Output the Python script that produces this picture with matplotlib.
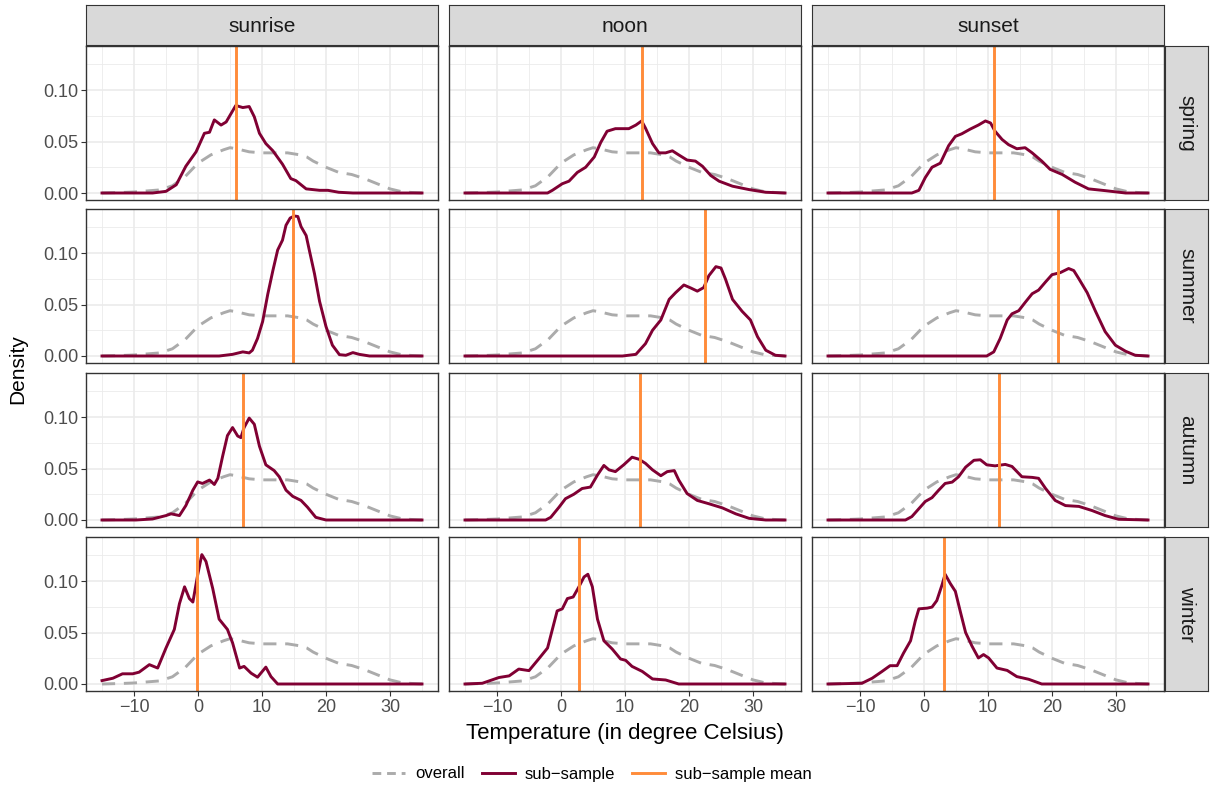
import matplotlib
matplotlib.use("Agg")
import matplotlib.pyplot as plt
from matplotlib.lines import Line2D

plt.rcParams['font.family'] = ['Liberation Sans', 'DejaVu Sans']

times = ['sunrise', 'noon', 'sunset']
seasons = ['spring', 'summer', 'autumn', 'winter']

# overall density (same in every panel)
overall_x = [-15, -12, -10, -8, -6, -4, -2, 0, 2, 4, 5, 6, 8, 10, 12, 14, 16, 17, 18, 20, 22, 24, 26, 28, 30, 32, 35]
overall_y = [0, 0.0005, 0.001, 0.002, 0.003, 0.007, 0.016, 0.029, 0.037, 0.042, 0.044, 0.043, 0.040, 0.039,
             0.039, 0.039, 0.037, 0.035, 0.031, 0.025, 0.020, 0.018, 0.014, 0.009, 0.004, 0.001, 0]

# sub-sample densities
spring_sunrise_x = [-15, -7.1, -5, -3.4, -1.9, -0.3, 1.0, 1.8, 2.55, 3.6, 4.4, 5.9, 7.0, 8.0, 8.8, 9.6, 10.6, 11.7,
                    13.2, 14.5, 15.3, 16.9, 19.0, 20.3, 22, 24.2, 35]
spring_sunrise_y = [0, 0, 0.0016, 0.008, 0.026, 0.040, 0.058, 0.059, 0.071, 0.066, 0.069, 0.085, 0.083, 0.084,
                    0.074, 0.058, 0.048, 0.041, 0.028, 0.014, 0.012, 0.004, 0.0026, 0.0026, 0.0007, 0, 0]
spring_noon_x = [-15, -2.1, -1.35, 0.2, 1.25, 2.55, 3.85, 5.2, 6.2, 7.2, 8.5, 10.6, 11.7, 12.6, 13.2, 14.3, 15.3,
                 16.35, 17.4, 18.4, 19.7, 21.0, 22.1, 23.4, 24.7, 26.8, 29.4, 32, 35]
spring_noon_y = [0, 0, 0.0026, 0.009, 0.0115, 0.020, 0.025, 0.035, 0.049, 0.060, 0.0625, 0.0625, 0.066, 0.070,
                 0.063, 0.048, 0.039, 0.039, 0.041, 0.037, 0.032, 0.031, 0.026, 0.017, 0.0115, 0.0066, 0.0033,
                 0.0007, 0]
spring_sunset_x = [-15, -1.9, -0.8, 0.2, 1.25, 2.55, 3.85, 4.9, 5.9, 7.2, 8.5, 9.6, 10.4, 11.1, 12.2, 13.2, 14.5,
                   15.8, 16.9, 18.4, 19.7, 21.6, 23.6, 25.7, 28.3, 31.5, 35]
spring_sunset_y = [0, 0, 0.0026, 0.015, 0.025, 0.029, 0.046, 0.055, 0.0575, 0.062, 0.066, 0.070, 0.068, 0.060,
                   0.052, 0.047, 0.043, 0.044, 0.039, 0.031, 0.023, 0.018, 0.0105, 0.004, 0.0023, 0, 0]
summer_sunrise_x = [-15, 3.3, 5.4, 7.0, 8.0, 8.5, 9.3, 10.1, 10.9, 11.7, 12.45, 13.2, 13.75, 14.4, 15.05, 15.6,
                    16.1, 16.9, 17.4, 18.2, 19.0, 20.0, 21.0, 22.1, 23.1, 24.2, 25.2, 26.8, 35]
summer_sunrise_y = [0, 0, 0.0016, 0.004, 0.003, 0.0056, 0.017, 0.0335, 0.060, 0.083, 0.103, 0.1125, 0.127, 0.134,
                    0.136, 0.1355, 0.1257, 0.117, 0.1026, 0.080, 0.053, 0.0286, 0.0105, 0.0013, 0.0007, 0.0033,
                    0.0016, 0, 0]
summer_noon_x = [-15, 9.6, 11.7, 13.2, 14.3, 15.6, 16.9, 17.9, 19.2, 20.3, 21.3, 22.3, 23.1, 24.2, 25.0, 25.7,
                 26.8, 28.3, 29.6, 30.7, 32.0, 33.5, 35]
summer_noon_y = [0, 0, 0.0016, 0.012, 0.025, 0.035, 0.055, 0.0615, 0.069, 0.066, 0.063, 0.0665, 0.078, 0.0868,
                 0.0855, 0.0747, 0.055, 0.0434, 0.035, 0.0188, 0.0056, 0.0007, 0]
summer_sunset_x = [-15, 9.8, 10.9, 11.9, 13.0, 13.75, 14.8, 15.8, 16.9, 17.9, 19.0, 20.0, 21.3, 22.6, 23.4, 24.2,
                   25.5, 26.8, 28.3, 29.9, 31.5, 33.0, 35]
summer_sunset_y = [0, 0, 0.004, 0.017, 0.035, 0.041, 0.044, 0.052, 0.0605, 0.064, 0.072, 0.079, 0.081, 0.085,
                   0.083, 0.075, 0.0615, 0.0434, 0.0237, 0.0105, 0.0046, 0.0007, 0]
autumn_sunrise_x = [-15, -9.7, -7.1, -5, -4.2, -2.9, -1.9, -0.8, -0.05, 0.7, 1.8, 2.55, 3.1, 3.85, 4.6, 5.4, 6.2,
                    6.7, 7.2, 8.0, 8.8, 9.6, 10.6, 11.9, 12.7, 13.75, 14.8, 16.1, 17.1, 18.4, 20, 35]
autumn_sunrise_y = [0, 0, 0.001, 0.0043, 0.006, 0.0043, 0.014, 0.029, 0.037, 0.0355, 0.0388, 0.0345, 0.0405,
                    0.062, 0.082, 0.0898, 0.0816, 0.080, 0.0898, 0.099, 0.093, 0.0717, 0.0536, 0.048, 0.042,
                    0.029, 0.023, 0.019, 0.0125, 0.0026, 0, 0]
autumn_noon_x = [-15, -2.4, -1.6, -0.3, 0.7, 2.0, 3.3, 4.6, 5.7, 6.7, 7.5, 8.5, 9.8, 11.1, 12.2, 13.2, 14.3, 15.6,
                 16.6, 17.7, 18.4, 19.7, 21.3, 23.1, 25.2, 27.3, 29.4, 32, 35]
autumn_noon_y = [0, 0, 0.0026, 0.0125, 0.0207, 0.025, 0.0306, 0.032, 0.0437, 0.053, 0.0487, 0.047, 0.0536,
                 0.061, 0.059, 0.055, 0.0487, 0.043, 0.047, 0.048, 0.0388, 0.0257, 0.019, 0.0158, 0.0118, 0.006,
                 0.0016, 0, 0]
autumn_sunset_x = [-15, -2.9, -1.9, -0.8, 0.2, 1.25, 2.3, 3.3, 4.4, 5.4, 6.5, 7.8, 8.8, 9.8, 11.1, 12.7, 13.75,
                   15.3, 16.9, 17.9, 19.0, 20.5, 22.1, 24.2, 26.25, 28.3, 30.4, 35]
autumn_sunset_y = [0, 0, 0.0033, 0.011, 0.018, 0.0217, 0.029, 0.0355, 0.0368, 0.042, 0.0513, 0.058, 0.0585,
                   0.0536, 0.0526, 0.054, 0.052, 0.042, 0.0414, 0.0405, 0.0306, 0.019, 0.014, 0.0132, 0.0092,
                   0.0043, 0.0007, 0]
winter_sunrise_x = [-15, -13.3, -11.8, -10.2, -9.2, -7.6, -6.3, -5, -3.7, -2.9, -2.1, -1.35, -0.8, -0.05, 0.6,
                    1.25, 2.3, 3.3, 4.6, 5.4, 6.5, 7.2, 8.3, 9.3, 10.6, 11.4, 12.45, 35]
winter_sunrise_y = [0.0033, 0.0056, 0.0099, 0.0099, 0.0115, 0.0188, 0.0155, 0.035, 0.053, 0.078, 0.0944, 0.083,
                    0.0796, 0.106, 0.1257, 0.119, 0.0928, 0.063, 0.053, 0.040, 0.0155, 0.0171, 0.0105, 0.0066,
                    0.0164, 0.0072, 0, 0]
winter_noon_x = [-15, -12.3, -9.7, -8.1, -6.6, -5, -3.4, -2.1, -1.35, -0.6, 0.2, 1.0, 1.9, 2.8, 3.6, 4.2, 4.9,
                 5.7, 6.7, 8.0, 9.3, 10.1, 11.1, 12.7, 14.3, 16.35, 18.4, 35]
winter_noon_y = [0, 0.0007, 0.0063, 0.0079, 0.0145, 0.013, 0.025, 0.035, 0.053, 0.071, 0.073, 0.083, 0.0845,
                 0.0944, 0.104, 0.1066, 0.0944, 0.063, 0.042, 0.034, 0.0243, 0.023, 0.0171, 0.0122, 0.0049,
                 0.0039, 0, 0]
winter_sunset_x = [-15, -9.7, -8.1, -6.6, -5.3, -4.2, -3.2, -2.1, -1.35, -0.8, 0.5, 1.25, 2.0, 2.8, 3.3, 4.1,
                   4.9, 5.7, 6.5, 7.5, 8.5, 9.3, 10.1, 11.4, 13.0, 14.5, 16.35, 18.4, 35]
winter_sunset_y = [0, 0.0007, 0.0056, 0.012, 0.0178, 0.0178, 0.030, 0.042, 0.0615, 0.073, 0.0737, 0.0747, 0.081,
                   0.096, 0.1066, 0.0977, 0.090, 0.0697, 0.050, 0.0368, 0.0253, 0.0286, 0.0253, 0.0155, 0.0132,
                   0.0072, 0.0046, 0, 0]

# sub-sample means (sunrise, noon, sunset)
mean_spring = [5.9, 12.7, 11.0]
mean_summer = [14.9, 22.5, 20.9]
mean_autumn = [7.1, 12.3, 11.7]
mean_winter = [-0.2, 2.8, 3.1]

sub = {
    ('spring', 'sunrise'): (spring_sunrise_x, spring_sunrise_y),
    ('spring', 'noon'): (spring_noon_x, spring_noon_y),
    ('spring', 'sunset'): (spring_sunset_x, spring_sunset_y),
    ('summer', 'sunrise'): (summer_sunrise_x, summer_sunrise_y),
    ('summer', 'noon'): (summer_noon_x, summer_noon_y),
    ('summer', 'sunset'): (summer_sunset_x, summer_sunset_y),
    ('autumn', 'sunrise'): (autumn_sunrise_x, autumn_sunrise_y),
    ('autumn', 'noon'): (autumn_noon_x, autumn_noon_y),
    ('autumn', 'sunset'): (autumn_sunset_x, autumn_sunset_y),
    ('winter', 'sunrise'): (winter_sunrise_x, winter_sunrise_y),
    ('winter', 'noon'): (winter_noon_x, winter_noon_y),
    ('winter', 'sunset'): (winter_sunset_x, winter_sunset_y),
}
means = {'spring': mean_spring, 'summer': mean_summer, 'autumn': mean_autumn, 'winter': mean_winter}

c_overall = '#ABABAB'
c_sub = '#800033'
c_mean = '#FF8C3A'
c_border = '#333333'
c_grid = '#EBEBEB'
lw = 2.1

ymax = max(max(v[1]) for v in sub.values())
ylo, yhi = -0.05 * ymax, 1.05 * ymax

W, H = 1220, 785
fig = plt.figure(figsize=(W / 100, H / 100), dpi=100)


def box(l, t, w, h):
    return [l / W, 1 - (t + h) / H, w / W, h / H]


col_left = [86, 449, 812]
row_top = [46, 209, 373, 537]
pw, ph = 352, 154

for i, season in enumerate(seasons):
    for j, tod in enumerate(times):
        ax = fig.add_axes(box(col_left[j], row_top[i], pw, ph))
        ax.set_xlim(-17.5, 37.5)
        ax.set_ylim(ylo, yhi)
        ax.set_xticks([-10, 0, 10, 20, 30])
        ax.set_xticks([-15, -5, 5, 15, 25, 35], minor=True)
        ax.set_yticks([0, 0.05, 0.10])
        ax.set_yticklabels(['0.00', '0.05', '0.10'])
        ax.set_yticks([0.025, 0.075, 0.125], minor=True)
        ax.set_xticklabels(['\u221210', '0', '10', '20', '30'])
        ax.grid(which='major', color=c_grid, lw=1.2)
        ax.grid(which='minor', color=c_grid, lw=0.6)
        ax.set_axisbelow(True)
        ax.tick_params(which='minor', length=0)
        ax.tick_params(which='major', length=3.5, width=0.8, color=c_border,
                       labelsize=13, labelcolor='#4D4D4D', pad=2)
        if i < 3:
            ax.tick_params(axis='x', length=0, labelbottom=False)
        if j > 0:
            ax.tick_params(axis='y', length=0, labelleft=False)
        for s in ax.spines.values():
            s.set_color(c_border)
            s.set_linewidth(1.0)

        sx, sy = sub[(season, tod)]
        ax.plot(overall_x, overall_y, color=c_overall, lw=lw, ls=(0, (4.5, 3)))
        ax.plot(sx, sy, color=c_sub, lw=lw, solid_joinstyle='round')
        ax.axvline(means[season][j], color=c_mean, lw=lw)

        if i == 0:
            st = fig.add_axes(box(col_left[j], 5, pw, 40))
            st.set_facecolor('#D9D9D9')
            st.set_xticks([])
            st.set_yticks([])
            for s in st.spines.values():
                s.set_color(c_border)
            st.text(0.5, 0.47, tod, ha='center', va='center', fontsize=15, color='#1A1A1A',
                    transform=st.transAxes)
    st = fig.add_axes(box(1165, row_top[i], 43, ph))
    st.set_facecolor('#D9D9D9')
    st.set_xticks([])
    st.set_yticks([])
    for s in st.spines.values():
        s.set_color(c_border)
    st.text(0.5, 0.5, season, ha='center', va='center', rotation=-90, fontsize=15,
            color='#1A1A1A', transform=st.transAxes)

fig.text(18 / W, 1 - 369 / H, 'Density', rotation=90, ha='center', va='center', fontsize=15)
fig.text(625 / W, 1 - 733 / H, 'Temperature (in degree Celsius)', ha='center', va='center', fontsize=16)

handles = [Line2D([], [], color=c_overall, lw=lw, ls=(0, (3, 2))),
           Line2D([], [], color=c_sub, lw=lw),
           Line2D([], [], color=c_mean, lw=lw)]
fig.legend(handles, ['overall', 'sub\u2212sample', 'sub\u2212sample mean'], loc='center',
           bbox_to_anchor=(592 / W, 1 - 774 / H), ncol=3, frameon=False, fontsize=12,
           handlelength=2.0, handletextpad=0.6, columnspacing=1.0)

fig.savefig('out.png', dpi=100)
